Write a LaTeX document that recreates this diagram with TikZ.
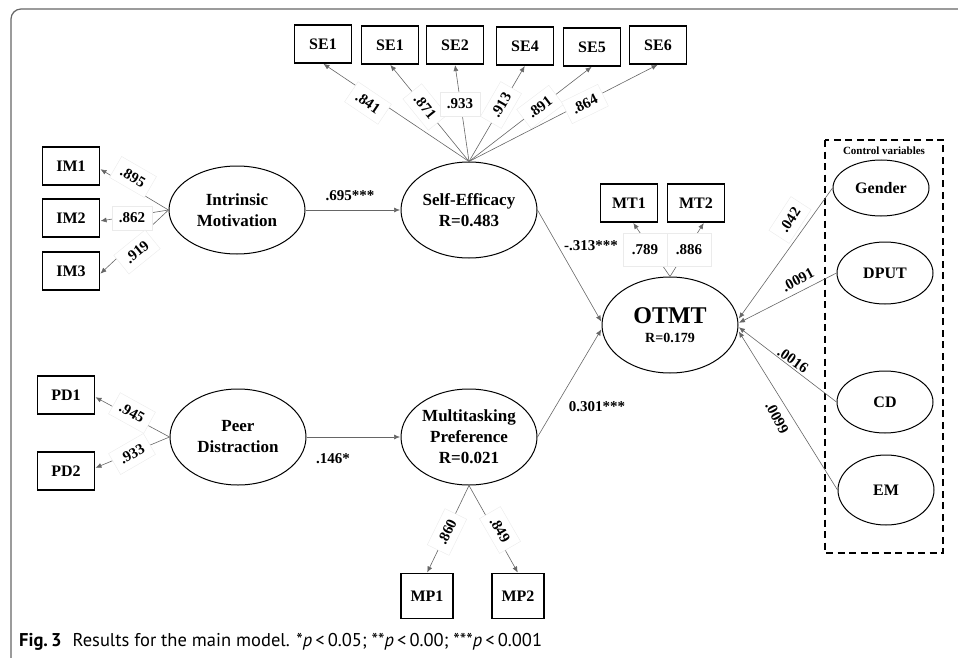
\documentclass[tikz,border=0pt]{standalone}
\usepackage{fontspec}
\setmainfont{Liberation Serif}
\newfontfamily\capfont{PT Sans}
\usetikzlibrary{arrows.meta,shapes.geometric}
\begin{document}
\begin{tikzpicture}[x=1pt,y=-1pt,
 obs/.style={draw=black,line width=1.1pt,minimum width=57pt,minimum height=38pt,inner sep=0pt,font=\fontsize{16}{16}\selectfont\bfseries},
 lat/.style={draw=black,line width=1pt,ellipse,minimum width=136pt,minimum height=96pt,inner sep=0pt,align=center,font=\fontsize{17}{21}\selectfont\bfseries},
 ctl/.style={draw=black,line width=1pt,ellipse,minimum width=96pt,minimum height=62pt,inner sep=0pt,font=\fontsize{16}{16}\selectfont\bfseries},
 ld/.style={draw=black!60,line width=0.6pt,-{Latex[length=6pt,width=5pt]},shorten >=0.5pt},
 lab/.style={fill=white,draw=black!8,inner sep=7pt,font=\fontsize{15}{15}\selectfont\bfseries},
 plab/.style={inner sep=1pt,font=\fontsize{15}{15}\selectfont\bfseries},
 frame/.style={line width=1.2pt,draw=black!60}
]
\useasboundingbox (0,0) rectangle (958,658);
% frame
\draw[frame] (11,658) -- (11,19) arc[start angle=180,end angle=270,radius=10] -- (958,9);

% observed boxes
\node[obs] (se1a) at (323,44) {SE1};
\node[obs] (se1b) at (390,45) {SE1};
\node[obs] (se2) at (455,45) {SE2};
\node[obs] (se4) at (525,46) {SE4};
\node[obs] (se5) at (592,47) {SE5};
\node[obs] (se6) at (658,45) {SE6};
\node[obs] (im1) at (71,166) {IM1};
\node[obs] (im2) at (71,218) {IM2};
\node[obs] (im3) at (71,271) {IM3};
\node[obs] (pd1) at (66,395) {PD1};
\node[obs] (pd2) at (66,471) {PD2};
\node[obs,minimum width=52pt,minimum height=45pt] (mp1) at (427,596) {MP1};
\node[obs,minimum width=52pt,minimum height=45pt] (mp2) at (518,596) {MP2};
\node[obs] (mt1) at (629,203) {MT1};
\node[obs] (mt2) at (696,203) {MT2};

% latent
\node[lat,minimum height=88pt] (im) at (237,210) {Intrinsic\\Motivation};
\node[lat] (se) at (469,210) {Self-Efficacy\\R=0.483};
\node[lat] (pd) at (238,437) {Peer\\Distraction};
\node[lat] (mp) at (469,437) {Multitasking\\Preference\\R=0.021};
\node[lat,align=center] (otmt) at (670,325) {{\fontsize{24}{24}\selectfont OTMT}\\[-2pt]{\fontsize{14}{15}\selectfont R=0.179}};

% control variables
\draw[line width=1.6pt,dash pattern=on 7pt off 4.5pt] (825,140) rectangle (943,553);
\node[font=\fontsize{11}{11}\selectfont\bfseries] (ctitle) at (884,151) {Control variables};
\node[ctl,minimum height=56pt] (gender) at (881,188) {Gender};
\node[ctl] (dput) at (885,273) {DPUT};
\node[ctl] (cd) at (885,402) {CD};
\node[ctl,minimum height=70pt] (em) at (886,490) {EM};

% SE loadings
\foreach \b in {se1a,se1b,se2,se4,se5,se6}{\draw[ld] (se.north) -- (\b.south);}
\node[lab,rotate=-34] at (368,103) {.841};
\node[lab,rotate=-51] at (425,107) {.871};
\node[lab] at (460,104) {.933};
\node[lab,rotate=60] at (501,105) {.913};
\node[lab,rotate=37] at (540,107) {.891};
\node[lab,rotate=26] at (585,104) {.864};

% IM loadings
\foreach \b in {im1,im2,im3}{\draw[ld] (im.west) -- ([yshift=-3pt]\b.east);}
\node[lab,rotate=-30] at (133,177) {.895};
\node[lab] at (132,218) {.862};
\node[lab,rotate=39] at (137,252) {.919};

% PD loadings
\draw[ld] (pd.west) -- ([yshift=-2pt]pd1.east);
\draw[ld] (pd.west) -- ([yshift=3pt]pd2.east);
\node[lab,rotate=-29] at (132,413) {.945};
\node[lab,rotate=30] at (132,454) {.933};

% MP loadings
\draw[ld] (mp.south) -- (mp1.north);
\draw[ld] (mp.south) -- (mp2.north);
\node[lab,rotate=64] at (447,532) {.860};
\node[lab,rotate=-60] at (500,530) {.849};

% MT loadings
\draw[ld] (otmt.north) -- ([xshift=4pt]mt1.south);
\draw[ld] (otmt.north) -- ([xshift=8pt]mt2.south);
\node[lab,minimum width=44pt,minimum height=33pt] at (645,250) {.789};
\node[lab,minimum width=44pt,minimum height=33pt] at (689,250) {.886};

% structural paths
\draw[ld] (im.east) -- (se.west);
\node[plab] at (350,196) {.695***};
\draw[ld] (pd.east) -- (mp.west);
\node[plab] at (333,459) {.146*};
\draw[ld] (se.east) -- ([yshift=3pt]otmt.west);
\node[plab] at (591,246) {-.313***};
\draw[ld] (mp.east) -- ([yshift=-4pt]otmt.west);
\node[plab] at (597,407) {0.301***};

% control paths
\draw[ld] (gender.west) -- ([yshift=6pt]otmt.east);
\draw[ld] (dput.west) -- ([yshift=2pt]otmt.east);
\draw[ld] (cd.west) -- ([yshift=-2pt]otmt.east);
\draw[ld] (em.west) -- ([yshift=-6pt]otmt.east);
\node[lab,rotate=57] at (790,220) {.042};
\node[plab,rotate=28] at (798,280) {.0091};
\node[plab,rotate=-35] at (793,360) {.0016};
\node[plab,rotate=-62] at (777,418) {.0099};

% caption
\node[anchor=base west,inner sep=0pt,font=\capfont\fontsize{18.5}{18.5}\selectfont] (cap) at (19,646)
 {\textbf{Fig.\,3}\hspace{0.6em}Results for the main model. *\textit{p}\,<\,0.05; **\textit{p}\,<\,0.00; ***\textit{p}\,<\,0.001};
\end{tikzpicture}
\end{document}
